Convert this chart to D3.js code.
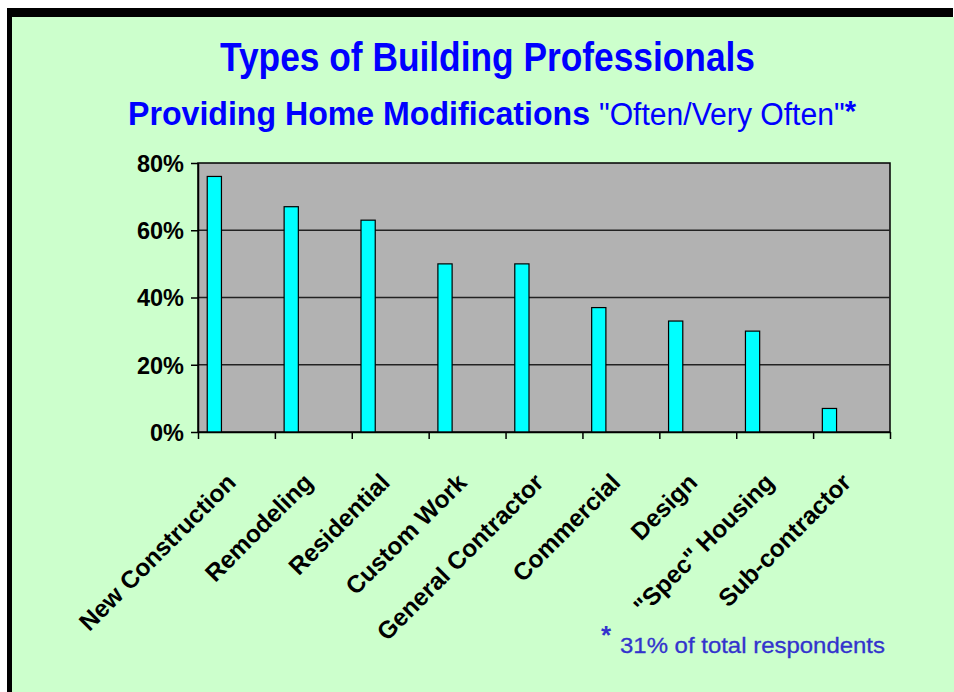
<!DOCTYPE html>
<html lang="en">
<head>
<meta charset="UTF-8"/>
<script src="https://d3js.org/d3.v7.min.js"></script>
<title>Types of Building Professionals</title>
<style>
  body { margin: 0; background: #fff; }
  text { font-family: "Liberation Sans", Arial, sans-serif; }
</style>
</head>
<body>
<script type="text/javascript">
  // values (percent answering "often/very often")
  var categories = ["New Construction", "Remodeling", "Residential", "Custom Work",
                    "General Contractor", "Commercial", "Design", "\"Spec\" Housing",
                    "Sub-contractor"];
  var values     = [76, 67, 63, 50, 50, 37, 33, 30, 7];
  var yTicks     = [0, 20, 40, 60, 80];

  var w = 954, h = 692;
  var plot = { left: 198, right: 890, top: 163, bottom: 432 };

  var svg = d3.select("body").append("svg")
              .attr("width", w)
              .attr("height", h);

  // frame: black band on top and left, green page
  svg.append("rect").attr("x", 7).attr("y", 8).attr("width", 946).attr("height", h - 8)
     .attr("fill", "#000");
  svg.append("rect").attr("x", 12).attr("y", 17).attr("width", 942).attr("height", h - 17)
     .attr("fill", "#CCFFCC");

  // titles
  svg.append("text")
     .attr("x", 220).attr("y", 71)
     .attr("textLength", 535).attr("lengthAdjust", "spacingAndGlyphs")
     .style("font-size", "40px").style("font-weight", "bold").attr("fill", "#0000FF")
     .text("Types of Building Professionals");

  svg.append("text")
     .attr("x", 128).attr("y", 125)
     .attr("textLength", 462).attr("lengthAdjust", "spacingAndGlyphs")
     .style("font-size", "33px").style("font-weight", "bold").attr("fill", "#0000FF")
     .text("Providing Home Modifications");

  // the quoted part and its asterisk share one text element
  var sub = svg.append("text")
     .attr("x", 599).attr("y", 125)
     .attr("textLength", 257).attr("lengthAdjust", "spacingAndGlyphs")
     .style("font-size", "31px").attr("fill", "#0000FF");
  sub.append("tspan").text("\"Often/Very Often\"");
  sub.append("tspan")
     .attr("dy", -4)
     .style("font-weight", "bold").style("font-size", "30px")
     .text("*");

  // scales
  var xScale = d3.scaleBand()
                 .domain(categories)
                 .range([plot.left, plot.right]);

  var xEdge = d3.scaleLinear()
                .domain([0, categories.length])
                .range([plot.left, plot.right]);

  var yScale = d3.scaleLinear()
                 .domain([0, 80])
                 .range([plot.bottom, plot.top]);

  // plot area
  svg.append("rect")
     .attr("x", plot.left).attr("y", plot.top)
     .attr("width", plot.right - plot.left).attr("height", plot.bottom - plot.top)
     .attr("fill", "#B2B2B2").attr("stroke", "#000").attr("stroke-width", 1.5);

  // gridlines
  svg.selectAll("line.grid")
     .data(yTicks.slice(1, -1))
     .enter()
     .append("line")
     .attr("class", "grid")
     .attr("x1", plot.left).attr("x2", plot.right)
     .attr("y1", function(d) { return yScale(d); })
     .attr("y2", function(d) { return yScale(d); })
     .attr("stroke", "#222").attr("stroke-width", 1.5);

  // bars sit left of the band centre, like the original
  var bw = xScale.bandwidth();
  svg.selectAll("rect.bar")
     .data(values)
     .enter()
     .append("rect")
     .attr("class", "bar")
     .attr("x", function(d, i) { return xScale(categories[i]) + bw * 0.12; })
     .attr("y", function(d) { return yScale(d); })
     .attr("width", bw * 0.185)
     .attr("height", function(d) { return yScale(0) - yScale(d); })
     .attr("fill", "#00FFFF").attr("stroke", "#000").attr("stroke-width", 1.2);

  // y axis
  var yAxis = d3.axisLeft(yScale)
                .tickValues(yTicks)
                .tickSize(7)
                .tickSizeOuter(0)
                .tickFormat(function(d) { return d + "%"; });

  var gy = svg.append("g")
              .attr("transform", "translate(" + plot.left + ",0)")
              .call(yAxis);
  gy.select(".domain").attr("stroke", "#000").attr("stroke-width", 1.5);
  gy.selectAll(".tick line").attr("stroke", "#000").attr("stroke-width", 1.5);
  gy.selectAll("text")
    .attr("x", -14).attr("dy", "0.36em")
    .style("font-size", "23.5px").style("font-weight", "bold")
    .style("font-family", "'Liberation Sans', Arial, sans-serif")
    .attr("fill", "#000");

  // x axis: tick marks on the category boundaries
  var xAxis = d3.axisBottom(xEdge)
                .tickValues(d3.range(categories.length + 1))
                .tickSize(7)
                .tickSizeOuter(0)
                .tickFormat("");

  var gx = svg.append("g")
              .attr("transform", "translate(0," + plot.bottom + ")")
              .call(xAxis);
  gx.select(".domain").attr("stroke", "#000").attr("stroke-width", 1.5);
  gx.selectAll(".tick line").attr("stroke", "#000").attr("stroke-width", 1.5);

  // rotated category labels
  svg.selectAll("text.cat")
     .data(categories)
     .enter()
     .append("text")
     .attr("class", "cat")
     .attr("transform", function(d) {
        return "translate(" + (xScale(d) + bw / 2 + 1) + ",484) rotate(-45)";
     })
     .attr("text-anchor", "end")
     .style("font-size", "24.5px").style("font-weight", "bold")
     .attr("fill", "#000")
     .text(function(d) { return d; });

  // footnote
  svg.append("text")
     .attr("x", 601).attr("y", 644)
     .style("font-size", "26px").style("font-weight", "bold").attr("fill", "#3333CC")
     .text("*");
  svg.append("text")
     .attr("x", 620).attr("y", 653)
     .attr("textLength", 265).attr("lengthAdjust", "spacingAndGlyphs")
     .style("font-size", "22px").attr("fill", "#3333CC")
     .style("stroke", "#3333CC").style("stroke-width", 0.3)
     .text("31% of total respondents");
</script>
</body>
</html>
